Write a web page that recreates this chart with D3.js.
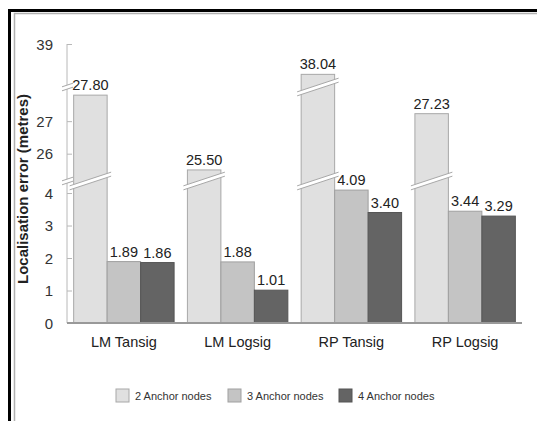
<!DOCTYPE html>
<html>
<head>
<meta charset="utf-8">
<script src="https://cdn.jsdelivr.net/npm/d3@7"></script>
<style>
  body { margin: 0; background: #fff; }
  text { font-family: "Liberation Sans", Arial, sans-serif; }
</style>
</head>
<body>
<svg id="chart"></svg>
<script>
// data
const categories = ["LM Tansig", "LM Logsig", "RP Tansig", "RP Logsig"];
const seriesNames = ["2 Anchor nodes", "3 Anchor nodes", "4 Anchor nodes"];
const anchor2 = [27.80, 25.50, 38.04, 27.23];
const anchor3 = [1.89, 1.88, 4.09, 3.44];
const anchor4 = [1.86, 1.01, 3.40, 3.29];
const tickValues = [0, 1, 2, 3, 4, 26, 27, 39];

const W = 537, H = 421;
const svg = d3.select("#chart").attr("width", W).attr("height", H);

// broken axis: piecewise linear scale, the gaps collapse to the break lines
const breakLow = 181, breakHigh = 87;
const y = d3.scaleLinear()
  .domain([0, 4.37, 25.16, 28.05, 37.64, 39])
  .range([323, breakLow, breakLow, breakHigh, breakHigh, 44]);

const x0 = d3.scaleBand().domain(categories).range([67, 522]).paddingInner(0.117).paddingOuter(0.0585);
const x1 = d3.scaleBand().domain(seriesNames).range([0, x0.bandwidth()]);

const fills = ["#e0e0e0", "#c4c4c4", "#646464"];
const strokes = ["#a8a8a8", "#a0a0a0", "#555"];

const rows = [];
categories.forEach((c, i) => {
  [anchor2, anchor3, anchor4].forEach((s, j) => rows.push({ cat: c, s: j, v: s[i] }));
});

// frame
svg.append("path").attr("d", `M${W},10.5H9.5V${H}`).attr("fill", "none")
  .attr("stroke", "#000").attr("stroke-width", 3);
svg.append("path").attr("d", `M${W},13.5H14.5V${H}`).attr("fill", "none")
  .attr("stroke", "#b0b0b0").attr("stroke-width", 1.5);

// y axis
const yAxis = svg.append("g").attr("transform", "translate(67,0)")
  .call(d3.axisRight(y).tickValues(tickValues).tickSize(5).tickFormat(d3.format("d")));
yAxis.select(".domain").attr("stroke", "#b8b8b8").attr("d", `M0,${y(39)}V${y(0)}`);
yAxis.selectAll(".tick line").attr("stroke", "#b8b8b8");
yAxis.selectAll(".tick text").attr("x", -14).attr("text-anchor", "end")
  .attr("fill", "#333").style("font-size", "15px").attr("dy", "0.35em");

// bars
const g = svg.append("g");
g.selectAll("rect").data(rows).join("rect")
  .attr("x", d => x0(d.cat) + x1(seriesNames[d.s]))
  .attr("y", d => y(d.v))
  .attr("width", x1.bandwidth())
  .attr("height", d => y(0) - y(d.v))
  .attr("fill", d => fills[d.s])
  .attr("stroke", d => strokes[d.s])
  .attr("stroke-width", 1);

// break marks
function breakMark(xa, xb, yc) {
  const slope = -0.33, gap = 4;
  const xm = (xa + xb) / 2;
  const ya = yc + (xa - xm) * slope, yb = yc + (xb - xm) * slope;
  svg.append("path")
    .attr("d", `M${xa},${ya - gap / 2}L${xb},${yb - gap / 2}L${xb},${yb + gap / 2}L${xa},${ya + gap / 2}Z`)
    .attr("fill", "#fff");
  [-gap / 2, gap / 2].forEach(o => svg.append("line")
    .attr("x1", xa).attr("y1", ya + o).attr("x2", xb).attr("y2", yb + o)
    .attr("stroke", "#a8a8a8").attr("stroke-width", 1));
}
breakMark(62, 73, breakHigh);
breakMark(62, 73, breakLow);
rows.filter(d => d.v > 4.37).forEach(d => {
  const bx = x0(d.cat) + x1(seriesNames[d.s]);
  breakMark(bx - 4, bx + x1.bandwidth() + 4, breakLow);
  if (d.v > 37.64) breakMark(bx - 4, bx + x1.bandwidth() + 4, breakHigh);
});

// x axis line
svg.append("line").attr("x1", 67).attr("x2", 522).attr("y1", y(0)).attr("y2", y(0))
  .attr("stroke", "#999").attr("stroke-width", 2);

// value labels
g.selectAll(".label").data(rows).join("text")
  .attr("x", d => x0(d.cat) + x1(seriesNames[d.s]) + x1.bandwidth() / 2)
  .attr("y", d => y(d.v) - 5)
  .attr("text-anchor", "middle")
  .style("font-size", "14.5px")
  .attr("fill", "#222")
  .text(d => d.v.toFixed(2));

// category labels
svg.selectAll(".cat").data(categories).join("text")
  .attr("x", d => x0(d) + x0.bandwidth() / 2)
  .attr("y", 347)
  .attr("text-anchor", "middle")
  .style("font-size", "14.5px")
  .attr("fill", "#222")
  .text(d => d);

// y title
svg.append("text")
  .attr("transform", "translate(22.5,189) rotate(-90)")
  .attr("text-anchor", "middle")
  .attr("dy", "0.35em")
  .style("font-size", "15px")
  .style("font-weight", "bold")
  .attr("fill", "#222")
  .text("Localisation error (metres)");

// legend
const legendX = [116, 228, 339];
const lg = svg.selectAll(".leg").data(seriesNames).join("g")
  .attr("transform", (d, i) => `translate(${legendX[i]},389)`);
lg.append("rect").attr("width", 13).attr("height", 13)
  .attr("fill", (d, i) => fills[i]).attr("stroke", (d, i) => strokes[i]);
lg.append("text").attr("x", 19).attr("y", 7).attr("dy", "0.35em")
  .style("font-size", "11px").attr("fill", "#333")
  .text(d => d);
</script>
</body>
</html>
